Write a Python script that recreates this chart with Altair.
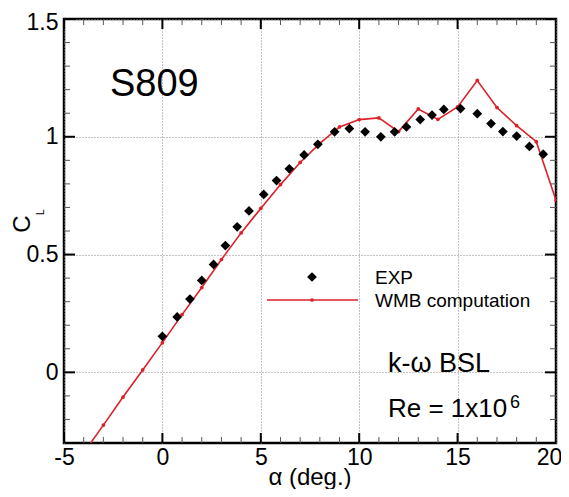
import altair as alt
import pandas as pd

# ---- data ----
exp_alpha = [0.0, 0.75, 1.4, 2.0, 2.6, 3.2, 3.8, 4.4, 5.15, 5.8, 6.45, 7.2, 7.9,
             8.75, 9.5, 10.3, 11.1, 11.8, 12.4, 13.1, 13.7, 14.3, 15.15, 16.0,
             16.7, 17.3, 18.0, 18.65, 19.35]
exp_cl = [0.153, 0.235, 0.311, 0.39, 0.458, 0.538, 0.618, 0.685, 0.755, 0.814,
          0.864, 0.923, 0.968, 1.021, 1.035, 1.021, 1.0, 1.021, 1.042, 1.073,
          1.092, 1.116, 1.12, 1.098, 1.056, 1.022, 1.003, 0.959, 0.926]

wmb_alpha = [-4, -3, -2, -1, 0, 1, 2, 3, 4, 5, 6, 7, 8, 9, 10, 11, 12, 13, 14,
             15, 16, 17, 18, 19, 20]
wmb_cl = [-0.342, -0.224, -0.105, 0.01, 0.126, 0.245, 0.36, 0.479, 0.592, 0.696,
          0.797, 0.891, 0.972, 1.042, 1.073, 1.08, 1.022, 1.118, 1.074, 1.127,
          1.239, 1.124, 1.047, 0.979, 0.731]

x_major = [-5, 0, 5, 10, 15, 20]
y_major = [0, 0.5, 1, 1.5]
x_minor = [v for v in range(-4, 20) if v % 5 != 0]
y_minor = [round(-0.2 + 0.1 * i, 1) for i in range(17)]
y_minor = [v for v in y_minor if v not in (0.0, 0.5, 1.0)]

X_DOM = [-5, 20]
Y_DOM = [-0.3, 1.5]

FONT = "Liberation Sans"
RED = "#dc2128"

exp_df = pd.DataFrame({"alpha": exp_alpha, "cl": exp_cl})
wmb_df = pd.DataFrame({"alpha": wmb_alpha, "cl": wmb_cl})

xs = alt.Scale(domain=X_DOM, nice=False, zero=False)
ys = alt.Scale(domain=Y_DOM, nice=False, zero=False)

base_x = alt.X("alpha:Q", scale=xs, title=None,
               axis=alt.Axis(values=x_major, labelExpr="toString(datum.value)",
                             labelFontSize=23, labelFont=FONT, labelColor="black",
                             labelPadding=3, ticks=False, domain=False,
                             labelOffset={"condition": {"test": "datum.value == 20", "value": -7},
                                          "value": 0},
                             grid=True, gridDash=[1, 2], gridColor="#888",
                             gridWidth=1, labelFlush=False, labelOverlap=False))
base_y = alt.Y("cl:Q", scale=ys, title=None,
               axis=alt.Axis(values=y_major, labelExpr="toString(datum.value)",
                             labelFontSize=23, labelFont=FONT, labelColor="black",
                             labelPadding=6, ticks=False, domain=False,
                             labelOffset={"condition": {"test": "datum.value == 1.5", "value": 3},
                                          "value": 0},
                             grid=True, gridDash=[1, 2], gridColor="#888",
                             gridWidth=1, labelFlush=False, labelOverlap=False))

line = alt.Chart(wmb_df).mark_line(color=RED, strokeWidth=1.6, clip=True).encode(
    x=base_x, y=base_y)
line_pts = alt.Chart(wmb_df).mark_point(filled=True, color=RED, size=14, opacity=1,
                                        clip=True).encode(
    x=alt.X("alpha:Q", scale=xs), y=alt.Y("cl:Q", scale=ys))
exp_pts = alt.Chart(exp_df).mark_point(shape="diamond", filled=True, color="black",
                                       size=95, opacity=1, clip=True).encode(
    x=alt.X("alpha:Q", scale=xs), y=alt.Y("cl:Q", scale=ys))

# ---- inward ticks on all four sides ----
def xticks(vals, size, thick, color):
    df = pd.DataFrame({"v": vals * 2, "e": [Y_DOM[0]] * len(vals) + [Y_DOM[1]] * len(vals)})
    return alt.Chart(df).mark_tick(orient="vertical", size=size, thickness=thick,
                                   color=color, opacity=1, clip=True).encode(
        x=alt.X("v:Q", scale=xs), y=alt.Y("e:Q", scale=ys))

def yticks(vals, size, thick, color):
    df = pd.DataFrame({"v": vals * 2, "e": [X_DOM[0]] * len(vals) + [X_DOM[1]] * len(vals)})
    return alt.Chart(df).mark_tick(orient="horizontal", size=size, thickness=thick,
                                   color=color, opacity=1, clip=True).encode(
        y=alt.Y("v:Q", scale=ys), x=alt.X("e:Q", scale=xs))

ticks = [
    xticks(x_minor, 12, 1, "#555"),
    xticks(x_major, 20, 2, "black"),
    yticks(y_minor, 12, 1, "#555"),
    yticks(y_major, 22, 2, "black"),
]

# ---- annotation texts ----
def txt(s, x, y, size, align="left", angle=0, baseline="alphabetic"):
    return alt.Chart(pd.DataFrame({"t": [s]})).mark_text(
        text=s, font=FONT, fontSize=size, align=align, baseline=baseline,
        angle=angle, color="black").encode(x=alt.value(x), y=alt.value(y))

texts = [
    txt("S809", 46, 77, 38),
    txt("k-ω BSL", 324, 353, 27),
    txt("Re = 1x10", 324, 398, 26),
    txt("6", 446, 389, 18),
    txt("EXP", 311, 265, 19),
    txt("WMB computation", 311, 288, 19),
    txt("α (deg.)", 246, 466, 24, align="center"),
    txt("C", -34, 205, 24, align="center", angle=270),
    txt("L", -20, 196, 10, align="left", angle=270),
]

# ---- legend symbols ----
leg_line = alt.Chart(pd.DataFrame({"a": [0]})).mark_rule(color=RED, strokeWidth=1.6).encode(
    x=alt.value(203), x2=alt.value(294), y=alt.value(281))
leg_dot = alt.Chart(pd.DataFrame({"a": [0]})).mark_point(
    filled=True, color=RED, size=14, opacity=1).encode(x=alt.value(248), y=alt.value(281))
leg_diamond = alt.Chart(pd.DataFrame({"a": [0]})).mark_point(
    shape="diamond", filled=True, color="black", size=95, opacity=1).encode(
    x=alt.value(248), y=alt.value(258))

chart = alt.layer(line, *ticks, line_pts, exp_pts, *texts, leg_line, leg_dot,
                  leg_diamond).properties(
    width=492, height=424,
    autosize=alt.AutoSizeParams(type="none"),
    padding={"left": 56, "top": 11, "right": 5, "bottom": 46},
    background="white",
).configure_view(stroke="black", strokeWidth=2.5)

chart.save("out.html", embed_options={"renderer": "svg", "actions": False})
